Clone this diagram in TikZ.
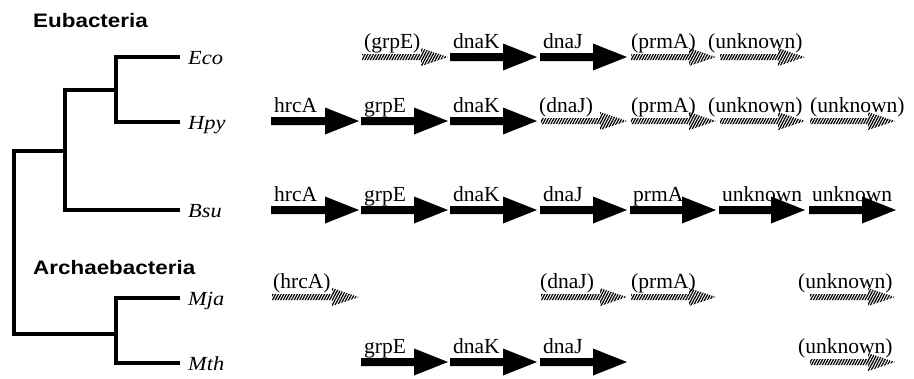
\documentclass[tikz,border=0pt]{standalone}
\usepackage{fontspec}
\setmainfont{Liberation Serif}
\setsansfont{Liberation Sans}
\usetikzlibrary{patterns.meta}

\tikzset{
  tree/.style={line width=4.8pt},
  genelabel/.style={anchor=base west, inner sep=0pt, font=\fontsize{21.5}{21.5}\selectfont},
  species/.style={anchor=base west, inner sep=0pt, font=\fontsize{20}{20}\selectfont\itshape},
  clade/.style={anchor=base west, inner sep=0pt, font=\fontsize{19.5}{19.5}\selectfont\sffamily\bfseries},
  hatch/.style={pattern={Lines[angle=62,distance=2.4pt,line width=1.25pt]}},
}

% solid gene arrow: start x, tip x, row y, label
\newcommand{\solidgene}[4]{%
  \fill (#1,#3-4) -- (#2-34,#3-4) -- (#2-34,#3-13.5) -- (#2,#3)
        -- (#2-34,#3+13.5) -- (#2-34,#3+4) -- (#1,#3+4) -- cycle;
  \node[genelabel] at (#1+3,#3-9) {#4};}
% hatched (putative) gene arrow: start x, tip x, row y, label, label x
\newcommand{\hatchgene}[5]{%
  \fill[hatch] (#1+1,#3-3) -- (#2-27,#3-3) -- (#2-27,#3-9) -- (#2,#3)
        -- (#2-27,#3+9) -- (#2-27,#3+3) -- (#1+1,#3+3) -- cycle;
  \node[genelabel] at (#5,#3-9) {#4};}
\newcommand{\spname}[1]{\scalebox{1.12}[1]{#1}}

\begin{document}
\begin{tikzpicture}[x=1pt,y=-1pt]
\useasboundingbox (0,0) rectangle (914,378);

% clade headings
\node[clade] (eub) at (33,27) {\scalebox{1.15}[1]{Eubacteria}};
\node[clade] (arc) at (33,274) {\scalebox{1.15}[1]{Archaebacteria}};

% leaf tips
\coordinate (eco) at (180,57);
\coordinate (hpy) at (180,122);
\coordinate (bsu) at (180,210);
\coordinate (mja) at (180,298);
\coordinate (mth) at (180,363);
% internal nodes
\coordinate (a1) at (116,90);
\coordinate (a2) at (65,90);
\coordinate (a3) at (65,151);
\coordinate (r1) at (14,151);
\coordinate (r2) at (14,334);
\coordinate (a4) at (116,334);

\node[species] (ecol) at ([shift={(8,7)}]eco) {\spname{Eco}};
\node[species] (hpyl) at ([shift={(8,7)}]hpy) {\spname{Hpy}};
\node[species] (bsul) at ([shift={(8,7)}]bsu) {\spname{Bsu}};
\node[species] (mjal) at ([shift={(8,7)}]mja) {\spname{Mja}};
\node[species] (mthl) at ([shift={(8,7)}]mth) {\spname{Mth}};

% tree
\draw[tree] (eco) -| (a1) |- (hpy);
\draw[tree] (a1) -- (a2) |- (bsu);
\draw[tree] (a3) -- (r1) -- (r2) -- (a4);
\draw[tree] (mja) -| (a4) |- (mth);

% Eco
\hatchgene{361}{448}{57}{(grpE)}{364}
\solidgene{450}{537}{57}{dnaK}
\solidgene{540}{627}{57}{dnaJ}
\hatchgene{630}{716}{57}{(prmA)}{631}
\hatchgene{719}{805}{57}{(unknown)}{708}
% Hpy
\solidgene{271}{359}{121}{hrcA}
\solidgene{361}{448}{121}{grpE}
\solidgene{450}{537}{121}{dnaK}
\hatchgene{540}{627}{121}{(dnaJ)}{539}
\hatchgene{630}{716}{121}{(prmA)}{631}
\hatchgene{719}{805}{121}{(unknown)}{708}
\hatchgene{809}{895}{121}{(unknown)}{810}
% Bsu
\solidgene{271}{359}{210}{hrcA}
\solidgene{361}{448}{210}{grpE}
\solidgene{450}{537}{210}{dnaK}
\solidgene{540}{627}{210}{dnaJ}
\solidgene{630}{716}{210}{prmA}
\solidgene{719}{805}{210}{unknown}
\solidgene{809}{896}{210}{unknown}
% Mja
\hatchgene{271}{359}{297}{(hrcA)}{273}
\hatchgene{540}{627}{297}{(dnaJ)}{540}
\hatchgene{630}{716}{297}{(prmA)}{631}
\hatchgene{809}{895}{297}{(unknown)}{798}
% Mth
\solidgene{361}{448}{362}{grpE}
\solidgene{450}{537}{362}{dnaK}
\solidgene{540}{627}{362}{dnaJ}
\hatchgene{809}{895}{362}{(unknown)}{798}
\end{tikzpicture}
\end{document}
